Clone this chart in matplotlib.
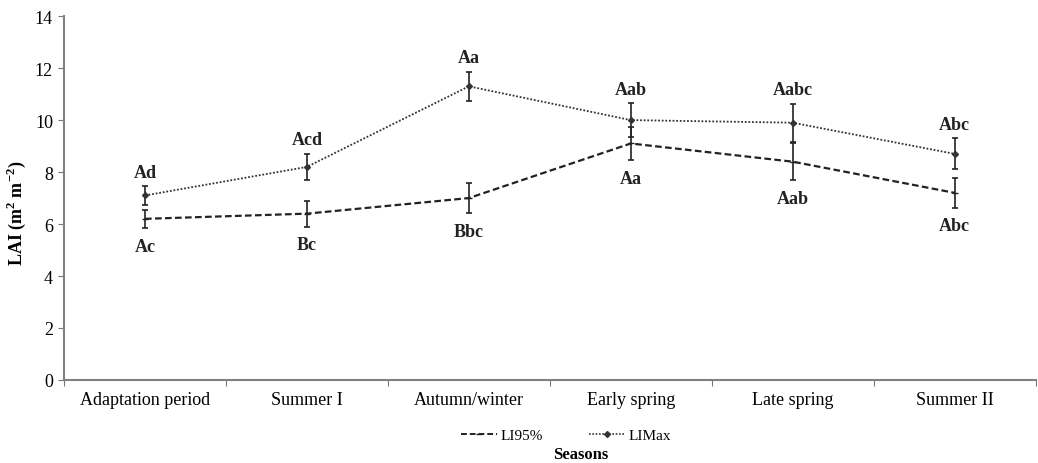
import matplotlib
matplotlib.use('Agg')
import matplotlib.pyplot as plt
from matplotlib.lines import Line2D
import numpy as np

# Data
seasons = ['Adaptation period', 'Summer I', 'Autumn/winter', 'Early spring', 'Late spring', 'Summer II']
li95 = [6.2, 6.4, 7.0, 9.1, 8.4, 7.2]
li95_err = [0.35, 0.5, 0.57, 0.65, 0.72, 0.57]
limax = [7.1, 8.2, 11.3, 10.0, 9.9, 8.7]
limax_err = [0.35, 0.5, 0.56, 0.65, 0.73, 0.6]
li95_letters = ['Ac', 'Bc', 'Bbc', 'Aa', 'Aab', 'Abc']
limax_letters = ['Ad', 'Acd', 'Aa', 'Aab', 'Aabc', 'Abc']

plt.rcParams['font.family'] = ['Liberation Serif', 'DejaVu Serif']
plt.rcParams['mathtext.fontset'] = 'custom'
plt.rcParams['mathtext.rm'] = 'Liberation Serif:bold'
plt.rcParams['mathtext.bf'] = 'Liberation Serif:bold'

fig = plt.figure(figsize=(10.38, 4.64), dpi=100)
ax = fig.add_axes([0.0617, 0.179, 0.936, 0.784])

x = np.arange(len(seasons))
dash95 = (0, (3, 1.5))
dotmax = (0, (1, 1))

ax.errorbar(x, li95, yerr=li95_err, color='#222222', linestyle=dash95, lw=1.6,
            marker='_', ms=5, capsize=2.5, elinewidth=1.2, capthick=1.2)
ax.errorbar(x, limax, yerr=limax_err, color='#333333', linestyle=dotmax, lw=1.3,
            marker='D', ms=3, capsize=2.5, elinewidth=1.2, capthick=1.2,
            ecolor='#222222')

for i in range(len(seasons)):
    ax.annotate(limax_letters[i], (x[i], limax[i] + limax_err[i]), xytext=(0, 4),
                textcoords='offset points', ha='center', va='bottom',
                fontsize=13, fontweight='bold', color='#222222')
    ax.annotate(li95_letters[i], (x[i], li95[i] - li95_err[i]), xytext=(0, -7),
                textcoords='offset points', ha='center', va='top',
                fontsize=13, fontweight='bold', color='#222222')

ax.set_xlim(-0.5, len(seasons) - 0.5)
ax.set_ylim(0, 14)
ax.set_yticks(np.arange(0, 15, 2))
ax.set_xticks(np.arange(-0.5, len(seasons), 1))
ax.set_xticklabels([])
ax.set_xticks(x, minor=True)
ax.set_xticklabels(seasons, minor=True)
ax.tick_params(axis='x', which='minor', length=0, pad=8, labelsize=13)
ax.tick_params(axis='x', which='major', length=4, color='#777777')
ax.tick_params(axis='y', length=4, color='#777777', labelsize=13, pad=4)

for side in ['top', 'right']:
    ax.spines[side].set_visible(False)
for side in ['left', 'bottom']:
    ax.spines[side].set_color('#808080')
    ax.spines[side].set_linewidth(1.5)

ax.set_ylabel(r'LAI (m$^{2}$ m$^{-2}$)', fontsize=13, fontweight='bold')
ax.yaxis.set_label_coords(-0.037, 0.46)

handles = [Line2D([], [], color='#222222', linestyle=dash95, lw=1.4, marker='_', ms=4),
           Line2D([], [], color='#333333', linestyle=dotmax, lw=1.2, marker='D', ms=3)]
fig.legend(handles, ['LI95%', 'LIMax'], loc='center', bbox_to_anchor=(0.545, 0.06), ncol=2,
           frameon=False, fontsize=11, handlelength=2.4, columnspacing=3, handletextpad=0.2)
fig.text(0.559, 0.02, 'Seasons', ha='center', va='center', fontsize=12, fontweight='bold')

fig.savefig('out.png', dpi=100)
